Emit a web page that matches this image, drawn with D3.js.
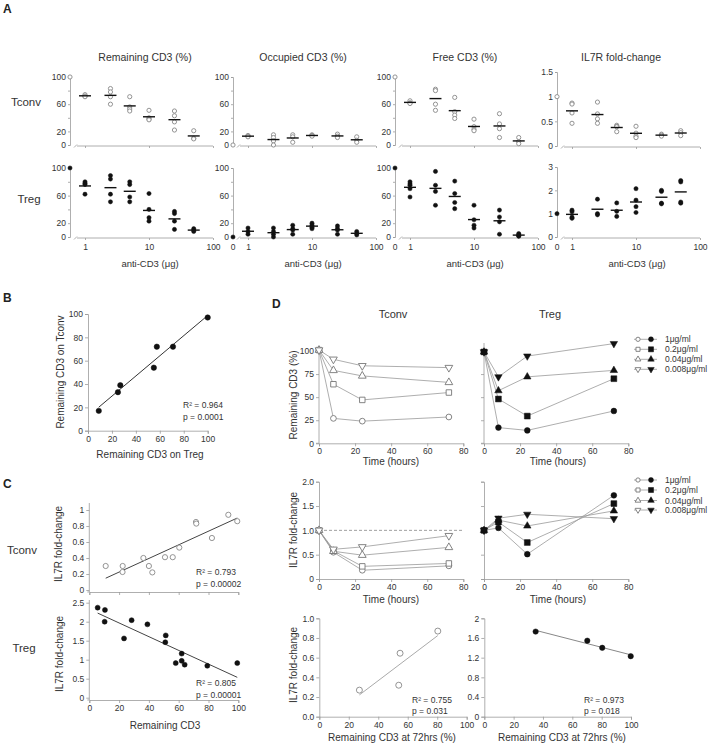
<!DOCTYPE html>
<html><head><meta charset="utf-8">
<script src="https://cdn.jsdelivr.net/npm/d3@7"></script>
<style>
body{margin:0;background:#fff;}
svg{font-family:"Liberation Sans", Arial, Helvetica, sans-serif;}
</style></head><body>
<svg id="fig" width="713" height="747"></svg>
<script>
// ---------------- DATA ----------------
// Panel A: anti-CD3 doses (µg) and per-dose replicate values
const doses = [1, 2.5, 5, 10, 25, 50];
const colTitles = ["Remaining CD3 (%)", "Occupied CD3 (%)", "Free CD3 (%)", "IL7R fold-change"];
const tconvControl = [100, 0, 100, 1];
const tregControl = [100, 0, 100, 1];
const tconvRemaining = [[74,72,71],[83,78,71,60],[71,56,53,50],[51,40,38,37],[50,43,34,22],[21,10,9]];
const tconvOccupied  = [[14,13,12],[15,11,6,0],[15,12,4],[15,14,13],[16,13,11],[12,7,4]];
const tconvFree      = [[65,62,61],[82,80,60,51],[70,49,44,39],[38,27,23,21],[46,31,24,11],[11,5,2]];
const tconvIL7R      = [[0.87,0.85,0.67,0.46],[0.89,0.65,0.55,0.46],[0.42,0.40,0.39,0.29],[0.40,0.26,0.20,0.17],[0.24,0.22,0.20],[0.31,0.27,0.21]];
const tregRemaining  = [[80,78,76,62],[89,84,62,51],[80,76,58,51],[63,40,28,23],[37,34,23,11],[12,10,8]];
const tregOccupied   = [[13,8,4],[13,8,4,0],[17,12,10,4],[20,17,14,12],[16,12,10,4],[8,5,3]];
const tregFree       = [[80,77,75,70,58],[95,75,66,46],[81,63,50,41],[46,25,17,13],[39,29,22,4],[5,3,2,1]];
const tregIL7R       = [[1.15,1.08,0.85,0.8],[1.62,1.0,0.95],[1.46,1.1,0.88],[2.07,1.58,1.3,1.05],[2.0,1.95,1.45,1.42],[2.42,2.36,1.5,1.45]];

// Panel B
const bTregCD3  = [9, 25, 27, 55, 57.5, 71, 100];
const bTconvCD3 = [17, 33, 39, 54, 72, 72, 97];
const bStats = ["R\u00B2 = 0.964", "p = 0.0001"];

// Panel C
const cTconvCD3  = [11, 22.4, 22.3, 36.3, 40, 42.3, 50.8, 56, 60.4, 71.6, 71.8, 82.3, 93.3, 99.3];
const cTconvIL7R = [0.30, 0.30, 0.225, 0.40, 0.30, 0.22, 0.41, 0.41, 0.53, 0.85, 0.83, 0.65, 0.94, 0.86];
const cTregCD3   = [5.6, 10.5, 10.3, 23.3, 28.4, 39, 51.3, 51, 62, 62, 58, 64, 79.2, 99.3];
const cTregIL7R  = [2.37, 2.31, 2.00, 1.56, 2.04, 1.93, 1.64, 1.46, 1.16, 0.97, 0.91, 0.87, 0.84, 0.91];
const cTconvStats = ["R\u00B2 = 0.793", "p = 0.00002"];
const cTregStats  = ["R\u00B2 = 0.805", "p = 0.00001"];

// Panel D
const times = [0, 8, 24, 72];
const concLabels = ["1\u03BCg/ml", "0.2\u03BCg/ml", "0.04\u03BCg/ml", "0.008\u03BCg/ml"];
const dTconvCD3  = [[101,27,24,28.5],[101,64,47,55],[101,79,73,66],[101,91,84,82]];
const dTregCD3   = [[99,17,14,35],[99,48,29.5,70],[99,57,72,79],[99,72,94.5,108]];
const dTconvIL7R = [[1,0.55,0.18,0.27],[1,0.58,0.26,0.32],[1,0.57,0.49,0.65],[1,0.61,0.66,0.89]];
const dTregIL7R  = [[1,1.05,0.51,1.72],[1,1.17,0.75,1.55],[1,1.21,1.09,1.40],[1,1.25,1.33,1.24]];
const d72TconvCD3  = [27.2, 54.8, 53.9, 80.4];
const d72TconvIL7R = [0.27, 0.645, 0.32, 0.87];
const d72TregCD3   = [35, 70.2, 80.4, 99.8];
const d72TregIL7R  = [1.73, 1.545, 1.40, 1.23];
const dTconvStats = ["R\u00B2 =  0.755", "p = 0.031"];
const dTregStats  = ["R\u00B2 =  0.973", "p = 0.018"];

// ---------------- HELPERS ----------------
const svg = d3.select("#fig");
const AXC = "#9a9a9a", TXT = "#333", TICKFS = 8.5;

function styleAxis(g){
  g.attr("font-family", null).attr("font-size", null);
  g.selectAll(".domain").attr("stroke", AXC).attr("stroke-width", 0.8);
  g.selectAll(".tick line").attr("stroke", AXC).attr("stroke-width", 0.8);
  g.selectAll(".tick text").attr("fill", TXT).style("font-size", TICKFS + "px");
  return g;
}
function leftAxis(scale, x, vals, fmt, size=3){
  const g = svg.append("g").attr("transform", `translate(${x},0)`)
    .call(d3.axisLeft(scale).tickValues(vals).tickSize(size).tickPadding(2).tickFormat(fmt));
  return styleAxis(g);
}
function bottomAxis(scale, y, vals, fmt, size=3){
  const g = svg.append("g").attr("transform", `translate(0,${y})`)
    .call(d3.axisBottom(scale).tickValues(vals).tickSize(size).tickPadding(2).tickFormat(fmt));
  return styleAxis(g);
}
function text(x, y, s, opts={}){
  const t = svg.append("text").attr("x", x).attr("y", y).text(s)
    .attr("fill", opts.fill || TXT).style("font-size", (opts.fs || 10) + "px")
    .attr("text-anchor", opts.anchor || "start");
  if (opts.bold) t.attr("font-weight", "bold");
  return t;
}
function vtext(x, y, s, fs){
  return svg.append("text").attr("transform", `translate(${x},${y}) rotate(-90)`)
    .attr("text-anchor", "middle").attr("fill", TXT).style("font-size", fs + "px").text(s);
}
function linreg(xs, ys){
  const mx = d3.mean(xs), my = d3.mean(ys);
  let sxy = 0, sxx = 0;
  xs.forEach((x, i) => { sxy += (x - mx) * (ys[i] - my); sxx += (x - mx) ** 2; });
  const b = sxy / sxx, a = my - b * mx;
  return x => a + b * x;
}
function fitLine(xs, ys, xS, yS, color){
  const f = linreg(xs, ys);
  const x0 = d3.min(xs), x1 = d3.max(xs);
  svg.append("line").attr("x1", xS(x0)).attr("y1", yS(f(x0))).attr("x2", xS(x1)).attr("y2", yS(f(x1)))
    .attr("stroke", color).attr("stroke-width", 1);
}
function dots(xs, ys, xS, yS, open, r){
  svg.append("g").selectAll("circle").data(xs).join("circle")
    .attr("cx", d => xS(d)).attr("cy", (d, i) => yS(ys[i])).attr("r", r)
    .attr("fill", open ? "#fff" : "#111").attr("stroke", open ? "#888" : "#111")
    .attr("stroke-width", open ? 0.9 : 0.5);
}

// ---------------- PANEL A ----------------
text(3, 13, "A", {fs: 12, bold: true, fill: "#222"});
const colAxisX = [70, 233, 395, 557];
const colTitleX = [145, 303, 465, 621];
colTitles.forEach((t, i) => text(colTitleX[i], 61, t, {fs: 10.5, anchor: "middle"}));

const rowsA = [
  {label: "Tconv", lx: 26, ly: 106, data: [tconvRemaining, tconvOccupied, tconvFree, tconvIL7R], ctrl: tconvControl, open: true,
   y: [[0,100,145,77],[0,100,145,77],[0,100,145,77],[0,1.5,146,72]], bottom: false},
  {label: "Treg", lx: 29, ly: 203, data: [tregRemaining, tregOccupied, tregFree, tregIL7R], ctrl: tregControl, open: false,
   y: [[0,100,237,168],[0,100,237,168],[0,100,237,168],[0,3,237,167]], bottom: true}
];
const yTickSets = [
  {vals: [0,20,40,60,80,100], fmt: d => [0,20,60,100].includes(d) ? d : ""},
  {vals: [0,20,40,60,80,100], fmt: d => [0,20,60,100].includes(d) ? d : ""},
  {vals: [0,20,40,60,80,100], fmt: d => [0,20,60,100].includes(d) ? d : ""}
];
rowsA.forEach(row => {
  text(row.lx, row.ly, row.label, {fs: 11.5, anchor: "middle"});
  row.data.forEach((cell, c) => {
    const ax = colAxisX[c];
    const [d0, d1, r0, r1] = row.y[c];
    const yS = d3.scaleLinear().domain([d0, d1]).range([r0, r1]);
    const xS = d3.scaleLog().domain([1, 100]).range([ax + 15, ax + 143]);
    // y axis
    let vals, fmt;
    if (c < 3) { vals = yTickSets[c].vals; fmt = yTickSets[c].fmt; }
    else if (row.label === "Tconv") { vals = [0, 0.5, 1, 1.5]; fmt = d => d; }
    else { vals = [0, 1, 2, 3]; fmt = d => d; }
    leftAxis(yS, ax, vals, fmt, 2);
    // x axis (broken near origin)
    const y0 = yS(d0) + 1;
    svg.append("line").attr("x1", xS(1) - 8).attr("x2", xS(100)).attr("y1", y0).attr("y2", y0)
      .attr("stroke", AXC).attr("stroke-width", 0.8);
    svg.append("line").attr("x1", xS(1) - 11).attr("x2", xS(1) - 8).attr("y1", y0 + 1.5).attr("y2", y0 - 1.5)
      .attr("stroke", AXC).attr("stroke-width", 0.8);
    const gx = bottomAxis(xS, y0, [1, 10, 100], d => row.bottom ? d : "", 2);
    gx.select(".domain").remove();
    if (row.bottom) {
      gx.selectAll(".tick text").attr("dy", "0.9em");
      if (c > 0) text(ax, y0 + 12, "0", {fs: TICKFS, anchor: "middle"});
      text(ax + 80, 267, "anti-CD3 (\u03BCg)", {fs: 9.5, anchor: "middle"});
    }
    // control point at y axis
    dots([0], [row.ctrl[c]], () => ax, yS, row.open, 2.1);
    // replicates and means
    cell.forEach((vals, k) => {
      dots(vals.map(() => doses[k]), vals, xS, yS, row.open, 2.1);
      const m = d3.mean(vals);
      svg.append("line").attr("x1", xS(doses[k]) - 6).attr("x2", xS(doses[k]) + 6)
        .attr("y1", yS(m)).attr("y2", yS(m)).attr("stroke", "#111").attr("stroke-width", 1.4);
    });
  });
});

// ---------------- PANEL B ----------------
text(3, 302, "B", {fs: 12, bold: true, fill: "#222"});
{
  const xS = d3.scaleLinear().domain([0, 100]).range([88, 207.7]);
  const yS = d3.scaleLinear().domain([0, 100]).range([430.7, 314]);
  const t = d3.range(0, 101, 20);
  leftAxis(yS, 88, t, d => d);
  bottomAxis(xS, 430.7, t, d => d);
  fitLine(bTregCD3, bTconvCD3, xS, yS, "#333");
  dots(bTregCD3, bTconvCD3, xS, yS, false, 2.7);
  vtext(64, 372, "Remaining CD3 on Tconv", 10);
  text(150, 458, "Remaining CD3 on Treg", {fs: 10, anchor: "middle"});
  text(183, 408, bStats[0], {fs: 8.5});
  text(183, 420, bStats[1], {fs: 8.5});
}

// ---------------- PANEL C ----------------
text(3, 488, "C", {fs: 12, bold: true, fill: "#222"});
{
  const xS = d3.scaleLinear().domain([0, 100]).range([89.3, 238.3]);
  // Tconv
  const yT = d3.scaleLinear().domain([0, 1]).range([590, 510]);
  const gy = leftAxis(yT, 89.3, [0, 0.2, 0.4, 0.6, 0.8, 1], d => d);
  gy.select(".domain").attr("d", "M-2,592H0V503");
  const gxT = bottomAxis(xS, 592, d3.range(0, 101, 20), () => "");
  fitLine(cTconvCD3, cTconvIL7R, xS, yT, "#444");
  dots(cTconvCD3, cTconvIL7R, xS, yT, true, 2.6);
  text(22, 554, "Tconv", {fs: 11.5, anchor: "middle"});
  vtext(62, 544, "IL7R fold-change", 10);
  text(196, 575, cTconvStats[0], {fs: 8.5});
  text(196, 587, cTconvStats[1], {fs: 8.5});
  // Treg
  const yR = d3.scaleLinear().domain([0, 2.5]).range([697.7, 602.7]);
  const gy2 = leftAxis(yR, 89.3, [0, 0.5, 1, 1.5, 2, 2.5], d => d);
  gy2.select(".domain").attr("d", "M-2,700H0V600");
  bottomAxis(xS, 700, d3.range(0, 101, 20), d => d);
  fitLine(cTregCD3, cTregIL7R, xS, yR, "#444");
  dots(cTregCD3, cTregIL7R, xS, yR, false, 2.5);
  text(24, 652, "Treg", {fs: 11.5, anchor: "middle"});
  vtext(63, 654, "IL7R fold-change", 10);
  text(196, 686, cTregStats[0], {fs: 8.5});
  text(196, 698, cTregStats[1], {fs: 8.5});
  text(165, 729, "Remaining CD3", {fs: 10, anchor: "middle"});
}

// ---------------- PANEL D ----------------
text(272, 308, "D", {fs: 12, bold: true, fill: "#222"});
text(393, 318, "Tconv", {fs: 11, anchor: "middle"});
text(550, 318, "Treg", {fs: 11, anchor: "middle"});

const symTypes = [d3.symbolCircle, d3.symbolSquare, d3.symbolTriangle, d3.symbolTriangle];
const symRot = [0, 0, 0, 180];
function drawSym(g, x, y, k, open, scale=1){
  const sizes = open ? [26, 30, 26, 26] : [26, 34, 24, 24];
  g.append("path").attr("d", d3.symbol().type(symTypes[k]).size(sizes[k] * scale)())
    .attr("transform", `translate(${x},${y}) rotate(${symRot[k]})`)
    .attr("fill", open ? "#fff" : "#111").attr("stroke", open ? "#777" : "#111")
    .attr("stroke-width", open ? 0.9 : 0.5);
}
function timePlot(series, xS, yS, open){
  const g = svg.append("g");
  const line = d3.line().x((d, i) => xS(times[i])).y(d => yS(d));
  series.forEach(s => g.append("path").attr("d", line(s)).attr("fill", "none").attr("stroke", "#999").attr("stroke-width", 0.8));
  // draw larger concentrations on top last for visibility
  series.forEach((s, k) => s.forEach((v, i) => drawSym(g, xS(times[i]), yS(v), k, open)));
}
function legend(x, ys){
  const g = svg.append("g");
  concLabels.forEach((lab, k) => {
    const y = ys[k];
    g.append("line").attr("x1", x - 4).attr("x2", x + 19).attr("y1", y).attr("y2", y).attr("stroke", "#999").attr("stroke-width", 0.8);
    drawSym(g, x, y, k, true, 0.55);
    drawSym(g, x + 13, y, k, false, 0.75);
    text(x + 27, y + 3, lab, {fs: 8.5});
  });
}
const xTc = d3.scaleLinear().domain([0, 80]).range([319, 463.3]);
const xTr = d3.scaleLinear().domain([0, 80]).range([484, 628.3]);
const tTicks = [0, 20, 40, 60, 80];
// D top: remaining CD3 over time
{
  const yS = d3.scaleLinear().domain([0, 100]).range([443.3, 351]);
  const g1 = leftAxis(yS, 319, [0, 25, 50, 75, 100], d => d);
  g1.select(".domain").attr("d", "M-3,443.3H0V347");
  const g2 = leftAxis(yS, 484, [0, 25, 50, 75, 100], () => "");
  g2.select(".domain").attr("d", "M-3,443.3H0V343");
  bottomAxis(xTc, 443.3, tTicks, d => d);
  bottomAxis(xTr, 443.3, tTicks, d => d);
  timePlot(dTconvCD3, xTc, yS, true);
  timePlot(dTregCD3, xTr, yS, false);
  text(391, 465, "Time (hours)", {fs: 10, anchor: "middle"});
  text(558, 465, "Time (hours)", {fs: 10, anchor: "middle"});
  vtext(297, 395, "Remaining CD3 (%)", 10);
  legend(638, [339.3, 349.3, 359.3, 369.3]);
}
// D middle: IL7R over time
{
  const yS = d3.scaleLinear().domain([0, 2]).range([579, 481.7]);
  leftAxis(yS, 319, [0, 0.5, 1, 1.5, 2], d => d === 0 ? "0" : d3.format(".1f")(d));
  leftAxis(yS, 484, [0, 0.5, 1, 1.5, 2], () => "");
  bottomAxis(xTc, 579, tTicks, d => d);
  bottomAxis(xTr, 579, tTicks, d => d);
  svg.append("line").attr("x1", xTc(0)).attr("x2", xTc(80)).attr("y1", yS(1)).attr("y2", yS(1))
    .attr("stroke", "#888").attr("stroke-width", 0.8).attr("stroke-dasharray", "3,2");
  timePlot(dTconvIL7R, xTc, yS, true);
  timePlot(dTregIL7R, xTr, yS, false);
  text(391, 603, "Time (hours)", {fs: 10, anchor: "middle"});
  text(558, 603, "Time (hours)", {fs: 10, anchor: "middle"});
  vtext(297, 530, "IL7R fold-change", 10);
  legend(638, [480, 490, 500.5, 510]);
}
// D bottom: IL7R vs remaining CD3 at 72h
{
  const xA = d3.scaleLinear().domain([0, 100]).range([319.3, 466.7]);
  const yA = d3.scaleLinear().domain([0, 1]).range([716.7, 618.3]);
  leftAxis(yA, 319.3, [0, 0.2, 0.4, 0.6, 0.8, 1], d => d3.format(".1f")(d));
  bottomAxis(xA, 716.7, d3.range(0, 101, 20), d => d);
  fitLine(d72TconvCD3, d72TconvIL7R, xA, yA, "#aaa");
  dots(d72TconvCD3, d72TconvIL7R, xA, yA, true, 3);
  text(412, 703, dTconvStats[0], {fs: 8.5});
  text(412, 714, dTconvStats[1], {fs: 8.5});
  text(392, 741, "Remaining CD3 at 72hrs (%)", {fs: 10, anchor: "middle"});
  vtext(297, 665, "IL7R fold-change", 10);

  const xB = d3.scaleLinear().domain([0, 100]).range([484.3, 631]);
  const yB = d3.scaleLinear().domain([0, 2]).range([716.7, 618.3]);
  leftAxis(yB, 484.3, [0, 0.4, 0.8, 1.2, 1.6, 2], d => d);
  bottomAxis(xB, 716.7, d3.range(0, 101, 20), d => d);
  fitLine(d72TregCD3, d72TregIL7R, xB, yB, "#888");
  dots(d72TregCD3, d72TregIL7R, xB, yB, false, 2.7);
  text(584, 703, dTregStats[0], {fs: 8.5});
  text(584, 714, dTregStats[1], {fs: 8.5});
  text(562, 741, "Remaining CD3 at 72hrs (%)", {fs: 10, anchor: "middle"});
}
</script>
</body></html>
